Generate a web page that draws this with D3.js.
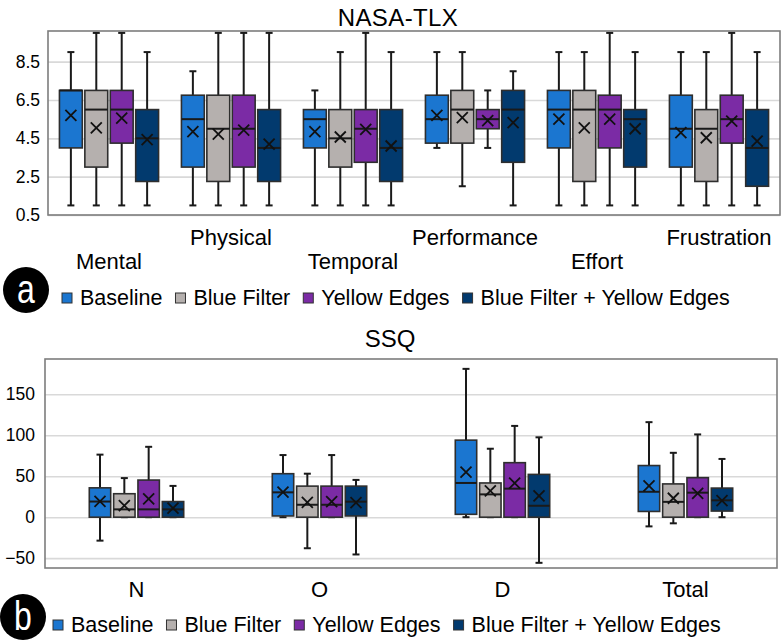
<!DOCTYPE html>
<html>
<head>
<meta charset="utf-8">
<script src="https://cdn.jsdelivr.net/npm/d3@7"></script>
<style>
body { margin: 0; background: #fff; }
text { font-family: "Liberation Sans", Arial, sans-serif; fill: #000; }
</style>
</head>
<body>
<div id="chartDiv"></div>
<script>
const seriesNames = ["Baseline", "Blue Filter", "Yellow Edges", "Blue Filter + Yellow Edges"]
const seriesColors = ["#1b76d0", "#b5b0ae", "#7b2ba5", "#023a6e"]

// NASA-TLX, rows = series, columns = categories
const tlxCategories = ["Mental", "Physical", "Temporal", "Performance", "Effort", "Frustration"]
const tlxMin = [
    [1, 1, 1, 4, 1, 1],
    [1, 1, 1, 2, 1, 1],
    [1, 1, 1, 4, 1, 1],
    [1, 1, 1, 1, 1, 1]]
const tlxQ1 = [
    [4, 3, 4, 4.25, 4, 3],
    [3, 2.25, 3, 4.25, 2.25, 2.25],
    [4.25, 3, 3.25, 5, 4, 4.25],
    [2.25, 2.25, 2.25, 3.25, 3, 2]]
const tlxMedian = [
    [7, 5.5, 5.5, 5.5, 6, 5],
    [6, 5, 4.5, 6, 6, 5],
    [6, 5, 5, 5.5, 6, 5.5],
    [4.5, 4, 4, 6, 5.5, 4]]
const tlxQ3 = [
    [7, 6.75, 6, 6.75, 7, 6.75],
    [7, 6.75, 6, 7, 7, 6],
    [7, 6.75, 6, 6, 6.75, 6.75],
    [6, 6, 6, 7, 6, 6]]
const tlxMax = [
    [9, 8, 7, 9, 9, 9],
    [10, 10, 9, 9, 9, 9],
    [10, 10, 10, 7, 10, 10],
    [9, 10, 9, 8, 9, 9]]
const tlxMean = [
    [5.7, 4.85, 4.85, 5.7, 5.5, 4.8],
    [5.05, 4.72, 4.57, 5.58, 5.05, 4.53],
    [5.55, 4.93, 4.97, 5.42, 5.5, 5.4],
    [4.43, 4.2, 4.1, 5.32, 5.0, 4.35]]
const tlxTicks = [0.5, 2.5, 4.5, 6.5, 8.5]

// SSQ, rows = series, columns = categories
const ssqCategories = ["N", "O", "D", "Total"]
const ssqMin = [
    [-28.62, 0, 0, -11.22],
    [0, -37.9, 0, -7.48],
    [0, 0, 0, 0],
    [0, -45.48, -55.68, 0]]
const ssqQ1 = [
    [0, 1.5, 3.5, 7],
    [0, 0, 0, 0],
    [0, 0, 0, 0],
    [0, 1.5, 0, 7.48]]
const ssqMedian = [
    [19.08, 30.32, 41.76, 31],
    [9.54, 15.16, 27.84, 18.7],
    [9.54, 15.16, 34.8, 29.9],
    [9.54, 18.95, 13.92, 20.57]]
const ssqQ3 = [
    [35.8, 53.06, 94, 63],
    [28.62, 37.9, 41.76, 40.6],
    [45.3, 37.9, 66.5, 48.2],
    [19.08, 37.9, 52.2, 35.5]]
const ssqMax = [
    [76.32, 75.8, 180.96, 115.94],
    [47.7, 53.06, 83.52, 78.54],
    [85.86, 75.8, 111.36, 100.98],
    [38.16, 45.48, 97.44, 71.06]]
const ssqMean = [
    [19.2, 30.5, 55, 38.2],
    [14.2, 18.2, 32, 23.1],
    [22.3, 19, 41.5, 29],
    [11, 17.7, 26, 20.3]]
const ssqTicks = [-50, 0, 50, 100, 150]

const svg = d3.select("#chartDiv")
    .append("svg")
    .attr("width", 782)
    .attr("height", 640)

const drawPanel = (p) => {
    const g = svg.append("g")

    const xScale = d3.scaleBand()
        .domain(p.categories)
        .range([p.left, p.right])

    const innerScale = d3.scaleBand()
        .domain(seriesNames)
        .range([0, xScale.bandwidth()])
        .paddingInner(p.padInner)
        .paddingOuter(p.padOuter)

    const yScale = d3.scaleLinear()
        .domain(p.domain)
        .range([p.bottom, p.top])

    // title
    g.append("text")
        .attr("x", p.titleX)
        .attr("y", p.titleY)
        .attr("text-anchor", "middle")
        .style("font-size", "24px")
        .style("letter-spacing", p.titleSpacing + "px")
        .text(p.title)

    // gridlines + tick labels
    const leftAxis = d3.axisLeft(yScale)
        .tickValues(p.ticks)
        .tickFormat(d3.format(p.tickFormat))
        .tickSize(-(p.right - p.left))
        .tickPadding(p.tickPad)

    const axisG = g.append("g")
        .attr("transform", `translate(${p.left},0)`)
        .call(leftAxis)
    axisG.select(".domain").remove()
    axisG.selectAll(".tick line")
        .style("stroke", "#d9d9d9")
        .style("stroke-width", 1.6)
    axisG.selectAll(".tick text")
        .style("font-size", "17.5px")
        .style("font-family", "\"Liberation Sans\", Arial, sans-serif")
        .style("fill", "#000")

    // plot frame
    g.append("rect")
        .attr("x", p.left)
        .attr("y", p.top)
        .attr("width", p.right - p.left)
        .attr("height", p.bottom - p.top)
        .attr("fill", "none")
        .attr("stroke", "#7d7d7d")
        .attr("stroke-width", 1.6)

    const boxes = []
    p.categories.forEach((cat, c) => {
        seriesNames.forEach((s, i) => {
            boxes.push({
                cat, s, i,
                min: p.min[i][c], q1: p.q1[i][c], median: p.median[i][c],
                q3: p.q3[i][c], max: p.max[i][c], mean: p.mean[i][c]
            })
        })
    })

    const bw = innerScale.bandwidth()
    const boxG = g.selectAll(".box")
        .data(boxes)
        .enter()
        .append("g")
        .attr("class", "box")
        .attr("transform", d => `translate(${xScale(d.cat) + innerScale(d.s)},0)`)

    boxG.append("line")
        .attr("x1", bw / 2).attr("x2", bw / 2)
        .attr("y1", d => yScale(d.min)).attr("y2", d => yScale(d.max))
        .attr("stroke", "#1a1a1a").attr("stroke-width", 2)

    boxG.selectAll(".cap")
        .data(d => [d.min, d.max])
        .enter()
        .append("line")
        .attr("x1", bw / 2 - 3.5).attr("x2", bw / 2 + 3.5)
        .attr("y1", v => yScale(v)).attr("y2", v => yScale(v))
        .attr("stroke", "#1a1a1a").attr("stroke-width", 2)

    boxG.append("rect")
        .attr("x", 0)
        .attr("y", d => yScale(d.q3))
        .attr("width", bw)
        .attr("height", d => yScale(d.q1) - yScale(d.q3))
        .attr("fill", d => seriesColors[d.i])
        .attr("stroke", "#2e2e2e")
        .attr("stroke-width", 1.6)

    boxG.append("line")
        .attr("x1", 0).attr("x2", bw)
        .attr("y1", d => yScale(d.median)).attr("y2", d => yScale(d.median))
        .attr("stroke", "#1a1a1a").attr("stroke-width", 2)

    boxG.append("path")
        .attr("transform", d => `translate(${bw / 2},${yScale(d.mean)})`)
        .attr("d", "M-5.5,-5.5L5.5,5.5M-5.5,5.5L5.5,-5.5")
        .attr("stroke", "#111").attr("stroke-width", 1.8)

    // category labels
    g.selectAll(".catLabel")
        .data(p.categories)
        .enter()
        .append("text")
        .attr("class", "catLabel")
        .attr("x", d => xScale(d) + xScale.bandwidth() / 2)
        .attr("y", (d, i) => p.stagger && i % 2 === 1 ? p.labelY - 24 : p.labelY)
        .attr("text-anchor", "middle")
        .style("font-size", "22px")
        .text(d => d)

    // badge
    g.append("circle")
        .attr("cx", p.badgeX).attr("cy", p.badgeY).attr("r", 23)
        .attr("fill", "#000")
    g.append("text")
        .attr("transform", `translate(${p.badgeX},${p.badgeY + 13}) scale(0.8,1)`)
        .attr("text-anchor", "middle")
        .style("font-size", "40px")
        .style("fill", "#fff")
        .text(p.badge)

    // legend
    let lx = p.legendX
    seriesNames.forEach((s, i) => {
        g.append("rect")
            .attr("x", lx).attr("y", p.legendY - 12)
            .attr("width", 10).attr("height", 10)
            .attr("fill", seriesColors[i])
            .attr("stroke", "#333").attr("stroke-width", 1)
        const t = g.append("text")
            .attr("x", lx + 18).attr("y", p.legendY)
            .style("font-size", "21.5px")
            .text(s)
        lx += 18 + t.node().getComputedTextLength() + 13
    })
}

drawPanel({
    title: "NASA-TLX", titleX: 398, titleY: 26, titleSpacing: 0.4, badge: "a",
    categories: tlxCategories, domain: [0.5, 10.1], ticks: tlxTicks, tickFormat: ".1f",
    min: tlxMin, q1: tlxQ1, median: tlxMedian, q3: tlxQ3, max: tlxMax, mean: tlxMean,
    left: 48, right: 780, top: 31, bottom: 215, tickPad: 8,
    padInner: 0.1, padOuter: 0.45,
    stagger: true, labelY: 269,
    badgeX: 26, badgeY: 290, legendX: 62, legendY: 305
})

drawPanel({
    title: "SSQ", titleX: 390, titleY: 347, titleSpacing: 0, badge: "b",
    categories: ssqCategories, domain: [-62, 193], ticks: ssqTicks, tickFormat: "d",
    min: ssqMin, q1: ssqQ1, median: ssqMedian, q3: ssqQ3, max: ssqMax, mean: ssqMean,
    left: 45, right: 777, top: 359, bottom: 568, tickPad: 10,
    padInner: 0.12, padOuter: 1.82,
    stagger: false, labelY: 597,
    badgeX: 23, badgeY: 617, legendX: 53, legendY: 632
})
</script>
</body>
</html>
